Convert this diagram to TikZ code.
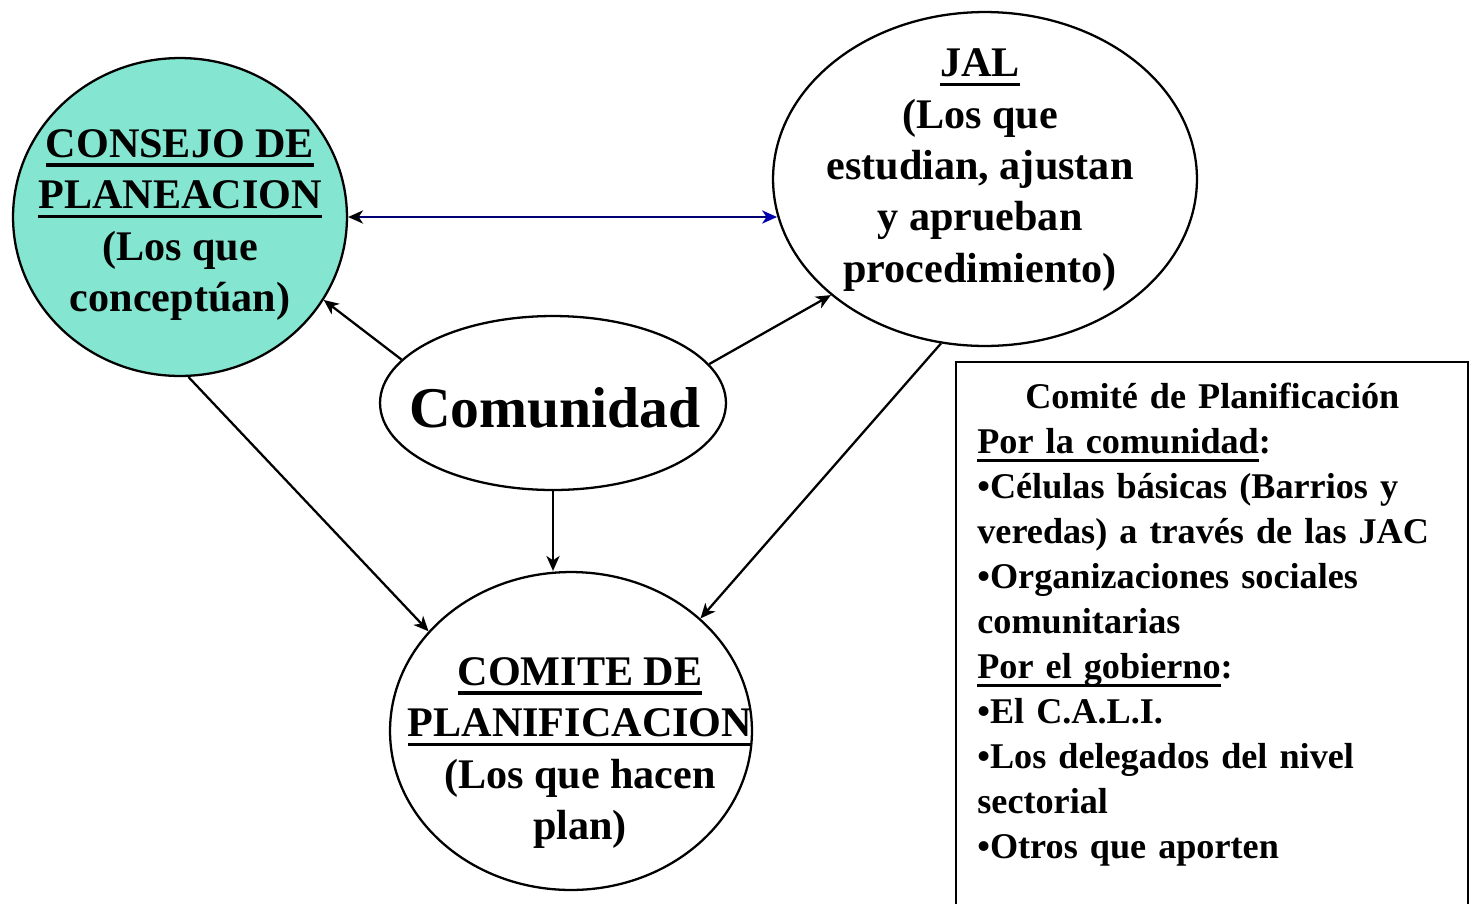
\documentclass[tikz,border=0pt]{standalone}
\usepackage{fontspec}
\setmainfont{Liberation Serif}
\usetikzlibrary{arrows.meta, shapes.geometric}
\definecolor{consejoFill}{HTML}{84E6D0}
\definecolor{linkNavy}{HTML}{000070}
\definecolor{tipBlue}{HTML}{0000B0}
\newlength\ulwd
\newcommand{\ulb}[1]{\leavevmode\settowidth{\ulwd}{#1}\rlap{\rule[-0.22em]{\ulwd}{0.08em}}#1}

\begin{document}
\begin{tikzpicture}[x=0.02cm, y=-0.02cm,
    bubble/.style={ellipse, draw, line width=1.3pt, inner sep=0pt},
    bubbletext/.style={align=center, inner sep=0pt, font=\fontsize{24}{29.2}\selectfont\bfseries},
    link/.style={-{Stealth[length=8.5pt,width=7.5pt,inset=2.5pt]}, line width=1.3pt}]
    \useasboundingbox (0,0) rectangle (1472,904);
    % the four bubbles
    \node[bubble, fill=consejoFill, minimum width=6.68cm, minimum height=6.36cm] (cons) at (180,217) {};
    \node[bubble, minimum width=8.48cm, minimum height=6.68cm] (jal) at (985,179) {};
    \node[bubble, minimum width=6.92cm, minimum height=3.48cm] (comu) at (553,403) {};
    \node[bubble, minimum width=7.24cm, minimum height=6.36cm] (comi) at (571,731) {};
    \node[bubbletext] (constxt) at (180,225) {\ulb{CONSEJO DE}\\ \ulb{PLANEACION}\\ (Los que\\ conceptúan)};
    \node[bubbletext] (jaltxt) at (980,170) {\ulb{JAL}\\ (Los que\\ estudian, ajustan\\ y aprueban\\ procedimiento)};
    \node[bubbletext] (comitxt) at (580,753) {\ulb{COMITE DE}\\ \ulb{PLANIFICACION}\\ (Los que hacen\\ plan)};
    \node[inner sep=0pt, font=\fontsize{32.8}{38}\selectfont\bfseries] (comutxt) at (555,408) {Comunidad};
    % connectors
    \draw[line width=1.3pt, linkNavy, {Stealth[length=8.5pt,width=7.5pt,inset=2.5pt,black]}-{Stealth[length=8.5pt,width=7.5pt,inset=2.5pt,tipBlue]}]
        (cons.east) -- (cons.east -| jal.190.5);
    \draw[link] (comu.164.7) -- (cons.-30.8);
    \draw[link] (comu.14.8) -- (jal.217.2);
    \draw[link] (cons.-87) -- (comi.145.3);
    \draw[link] (jal.-105) -- (comi.41.3);
    \draw[link] (comu.south) -- (comu.south |- comi.north);
    % side box
    \draw[line width=1.2pt] (956,904) -- (956,362) -- (1468,362) -- (1468,904);
    \node[anchor=north west, inner sep=0pt, text width=9.4cm, align=left,
        font=\fontsize{20.6}{25.6}\selectfont\bfseries] (info) at (977,383)
        {\noindent\makebox[\hsize]{Comité de Planificación}\\
         \ulb{Por la comunidad}:\\
         •Células básicas (Barrios y\\
         veredas) a través de las JAC\\
         •Organizaciones sociales\\
         comunitarias\\
         \ulb{Por el gobierno}:\\
         •El C.A.L.I.\\
         •Los delegados del nivel\\
         sectorial\\
         •Otros que aporten};
\end{tikzpicture}
\end{document}
